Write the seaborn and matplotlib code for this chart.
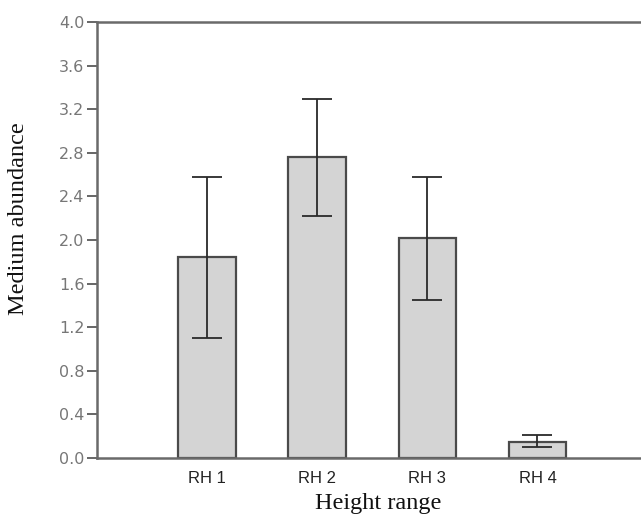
import numpy as np
import pandas as pd
import matplotlib
matplotlib.use("Agg")
import matplotlib.pyplot as plt
import seaborn as sns

categories = ["RH 1", "RH 2", "RH 3", "RH 4"]
means = [1.84, 2.76, 2.02, 0.15]
err_low = [1.10, 2.22, 1.45, 0.10]
err_high = [2.58, 3.29, 2.58, 0.21]
yticks = [0.0, 0.4, 0.8, 1.2, 1.6, 2.0, 2.4, 2.8, 3.2, 3.6, 4.0]

sns.set_style("white")

df = pd.DataFrame({"range": categories, "abundance": means})

fig = plt.figure(figsize=(6.41, 5.14), dpi=100)
ax = fig.add_axes([0.151, 0.109, 0.849, 0.848])

sns.barplot(data=df, x="range", y="abundance", color="#d4d4d4",
            edgecolor="#4a4a4a", linewidth=1.6, width=0.52,
            errorbar=None, ax=ax)

# asymmetric error bars
m = np.array(means)
yerr = [m - np.array(err_low), np.array(err_high) - m]
ax.errorbar(np.arange(len(categories)), m, yerr=yerr, fmt="none",
            ecolor="#2a2a2a", elinewidth=1.3, capsize=11, capthick=1.3)

ax.set_xlim(-1.0, 3.94)
ax.set_ylim(0, 4.0)
ax.set_yticks(yticks)
ax.set_yticklabels([f"{t:.1f}" for t in yticks], color="#777777",
                   fontsize=11.5, family="DejaVu Sans")
ax.tick_params(axis="y", left=True, length=7, width=1.4, color="#666666", pad=2)
ax.tick_params(axis="x", bottom=False, pad=6)
for lab in ax.get_xticklabels():
    lab.set_family("Liberation Sans")
    lab.set_fontsize(12)
    lab.set_color("#222222")

ax.set_xlabel("Height range", family="Liberation Serif", fontsize=17.5,
              color="#111111")
ax.set_ylabel("Medium abundance", family="Liberation Serif", fontsize=17.5,
              color="#111111")
ax.xaxis.set_label_coords(0.517, -0.08)
ax.yaxis.set_label_coords(-0.125, 0.548)

ax.spines["right"].set_visible(False)
for s in ["left", "bottom", "top"]:
    ax.spines[s].set_color("#6a6a6a")
    ax.spines[s].set_linewidth(1.8)

fig.savefig("out.png", dpi=100)
